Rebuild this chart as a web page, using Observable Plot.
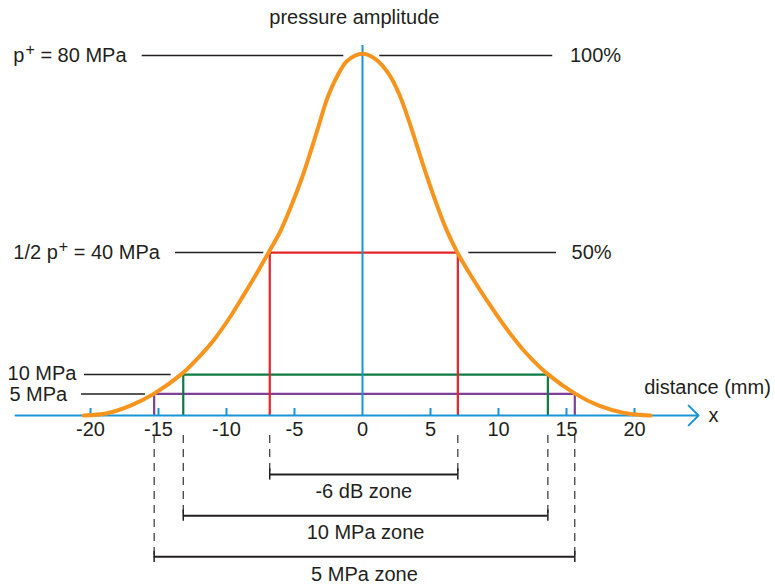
<!DOCTYPE html>
<html><head><meta charset="utf-8">
<script src="https://cdn.jsdelivr.net/npm/d3@7"></script>
<script src="https://cdn.jsdelivr.net/npm/@observablehq/plot@0.6"></script>
<style>body{margin:0;background:#fff}</style>
</head><body><div id="chart"></div>
<script>
// ---- data (distance in mm, pressure in MPa as drawn) ----
const curveX = [-20.5, -18.77, -17.06, -15.35, -13.26, -12.15, -10.93, -9.71, -8.73, -7.74, -6.89, -6.03, -5.29, -4.43, -3.82, -3.21, -2.60, -1.86, -1.13, 0, 0.96, 1.93, 2.67, 3.40, 4.02, 4.63, 5.37, 6.10, 6.96, 8.07, 9.29, 10.51, 11.99, 13.58, 15.66, 17.38, 19.34, 21.18];
const curveY = [0, 0.5, 2.2, 4.8, 9.3, 12.6, 16.8, 22.0, 26.8, 31.8, 36.3, 41.0, 46.2, 53.0, 58.6, 64.5, 70.4, 75.4, 78.8, 80.4, 79.2, 75.9, 71.6, 65.6, 59.8, 54.1, 47.6, 41.8, 36.3, 30.6, 24.9, 19.6, 14.0, 9.3, 4.8, 2.2, 0.5, 0];

const zoneNames  = ["-6 dB zone", "10 MPa zone", "5 MPa zone"];
const zoneLevels = [36.2, 9.1, 4.8];
const zoneLeft   = [-6.82, -13.18, -15.32];
const zoneRight  = [7.01, 13.63, 15.61];
const zoneColors = ["#e3242b", "#0d7a43", "#7e3f98"];

const levelLabels = ["p+ = 80 MPa", "1/2 p+ = 40 MPa", "10 MPa", "5 MPa"];
const levelValues = [80, 36.2, 9.1, 4.8];
const levelLabelY = [80, 36.2, 9.4, 4.6];
const levelLabelX = [-17.35, -14.9, -21.03, -21.71];
const guideLeftX1 = [-16.2, -13.75, -20.44, -20.66];
const guideLeftX2 = [-1.375, -7.26, -14.07, -15.96];

const pctLabels  = ["100%", "50%"];
const pctValues  = [80, 36.2];
const pctLabelX  = [15.25, 15.37];
const guideRightX1 = [1.27, 7.82];
const guideRightX2 = [13.99, 14.26];

const tickValues = [-20, -15, -10, -5, 0, 5, 10, 15, 20];
const tickLabels = ["-20", "-15", "-10", "-5", "0", "5", "10", "15", "20"];

const titleText = "pressure amplitude";
const xAxisLabel = "distance (mm)";
const xAxisName = "x";

// ---- styling ----
const ink = "#231f20", blue = "#1a95d3", orange = "#f7941d";
const FS = 20;
const idx = n => d3.range(n);
const bracketY = i => -13.1 - 9.15 * i;

const zoneMarks = idx(zoneNames.length).reverse().map(i =>
  Plot.line([[zoneLeft[i], 0], [zoneLeft[i], zoneLevels[i]], [zoneRight[i], zoneLevels[i]], [zoneRight[i], 0]],
    {x: d => d[0], y: d => d[1], stroke: zoneColors[i], strokeWidth: 2.2, strokeLinejoin: "miter", strokeLinecap: "butt"})
);

const dashData = idx(zoneNames.length).flatMap(i => [{i, x: zoneLeft[i]}, {i, x: zoneRight[i]}]);

const svg = Plot.plot({
  width: 775, height: 584, margin: 0,
  x: {domain: [-20, 20], range: [90, 634], axis: null},
  y: {domain: [0, 80], range: [415, 55], axis: null},
  style: {fontFamily: "'Liberation Sans', Arial, sans-serif", fontSize: "20px", background: "#fff", color: ink},
  marks: [
    // guide lines
    Plot.ruleY(idx(levelValues.length), {y: i => levelValues[i], x1: i => guideLeftX1[i], x2: i => guideLeftX2[i], stroke: ink, strokeWidth: 1.5}),
    Plot.ruleY(idx(pctValues.length), {y: i => pctValues[i], x1: i => guideRightX1[i], x2: i => guideRightX2[i], stroke: ink, strokeWidth: 1.5}),
    // dashed drop lines
    Plot.ruleX(dashData, {x: "x", y1: -4.44, y2: d => bracketY(d.i), stroke: ink, strokeWidth: 1.1, strokeDasharray: "8,6"}),
    // brackets
    Plot.ruleY(idx(zoneNames.length), {y: i => bracketY(i), x1: i => zoneLeft[i], x2: i => zoneRight[i], stroke: ink, strokeWidth: 2}),
    Plot.ruleX(dashData, {x: "x", y1: d => bracketY(d.i) - 1.25, y2: d => bracketY(d.i) + 1.25, stroke: ink, strokeWidth: 1.5}),
    Plot.text(idx(zoneNames.length), {x: i => (zoneLeft[i] + zoneRight[i]) / 2, y: i => bracketY(i) - 3.85, text: i => zoneNames[i], fontSize: FS, fill: ink}),
    // zones
    ...zoneMarks,
    // vertical axis
    Plot.ruleX([0], {x: d => d, y1: 0, y2: 82.2, stroke: blue, strokeWidth: 2}),
    // horizontal axis with arrow
    Plot.arrow([0], {x1: -25.51, x2: 24.71, y1: 0, y2: 0, stroke: blue, strokeWidth: 2, headAngle: 90, headLength: 10.5}),
    Plot.ruleX(tickValues.filter(v => v !== 0), {x: d => d, y1: 0, y2: 1.55, stroke: blue, strokeWidth: 2}),
    Plot.text(tickValues, {x: d => d, y: 0, dy: 14, text: (d, i) => tickLabels[i], fontSize: FS, fill: ink}),
    // curve
    Plot.line(idx(curveX.length), {x: i => curveX[i], y: i => curveY[i], stroke: orange, strokeWidth: 4, curve: "catmull-rom"}),
    // labels
    Plot.text(idx(levelLabels.length), {x: i => levelLabelX[i], y: i => levelLabelY[i], text: i => levelLabels[i], textAnchor: "end", fontSize: FS, fill: ink}),
    Plot.text(idx(pctLabels.length), {x: i => pctLabelX[i], y: i => pctValues[i], text: i => pctLabels[i], textAnchor: "start", fontSize: FS, fill: ink}),
    Plot.text([titleText], {x: -0.6, y: 88.5, text: d => d, fontSize: FS, fill: ink}),
    Plot.text([xAxisLabel], {x: 20.71, y: 6.2, text: d => d, textAnchor: "start", fontSize: FS, fill: ink}),
    Plot.text([xAxisName], {x: 25.44, y: 0, text: d => d, textAnchor: "start", fontSize: FS, fill: ink})
  ]
});

// superscript "+" in p+
d3.select(svg).selectAll("text").each(function() {
  const t = this.textContent;
  if (t.includes("p+")) {
    const k = t.indexOf("+");
    const before = t.slice(0, k), after = t.slice(k + 1);
    const sel = d3.select(this);
    sel.text(null);
    sel.append("tspan").text(before);
    sel.append("tspan").attr("dx", 1).attr("dy", -7).attr("font-size", 16).text("+");
    sel.append("tspan").attr("dy", 7).text(after);
  }
});

document.getElementById("chart").appendChild(svg);
</script>
</body></html>
